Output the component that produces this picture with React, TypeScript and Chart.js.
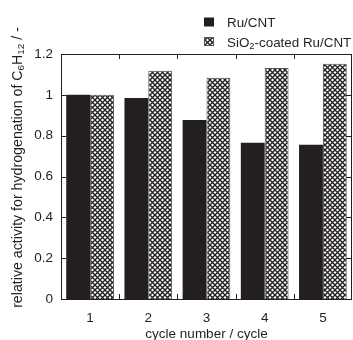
import React, { useEffect, useRef } from "react";
import { Chart, registerables } from "chart.js";

Chart.register(...registerables);

const categories = ["1", "2", "3", "4", "5"];
const ruCnt = [1.0, 0.985, 0.877, 0.765, 0.755];
const sio2Coated = [1.0, 1.118, 1.084, 1.131, 1.152];
const legendLabels = [
  [{ t: "Ru/CNT" }],
  [{ t: "SiO" }, { t: "2", sub: true }, { t: "-coated Ru/CNT" }],
];
const yTitle = [
  { t: "relative activity for hydrogenation of C" },
  { t: "6", sub: true },
  { t: "H" },
  { t: "12", sub: true },
  { t: " / -" },
];
const xTitle = "cycle number / cycle";

const INK = "#231f20";
const FONT = "'Liberation Sans', Arial, sans-serif";

function makePattern(): CanvasPattern | string {
  const p = 5;
  const c = document.createElement("canvas");
  c.width = p;
  c.height = p;
  const g = c.getContext("2d");
  if (!g) return "#888";
  g.fillStyle = "#ffffff";
  g.fillRect(0, 0, p, p);
  g.strokeStyle = INK;
  g.lineWidth = 1.35;
  g.beginPath();
  g.moveTo(-1, -1);
  g.lineTo(p + 1, p + 1);
  g.moveTo(p + 1, -1);
  g.lineTo(-1, p + 1);
  g.stroke();
  const pat = g.createPattern(c, "repeat");
  return pat || "#888";
}

type Seg = { t: string; sub?: boolean };

function drawRich(ctx: CanvasRenderingContext2D, segs: Seg[], x: number, y: number, size: number, align: "left" | "center") {
  const subSize = size * 0.7;
  let total = 0;
  const widths = segs.map((s) => {
    ctx.font = `${s.sub ? subSize : size}px ${FONT}`;
    const w = ctx.measureText(s.t).width;
    total += w;
    return w;
  });
  let cx = align === "center" ? x - total / 2 : x;
  ctx.textAlign = "left";
  ctx.textBaseline = "alphabetic";
  segs.forEach((s, i) => {
    ctx.font = `${s.sub ? subSize : size}px ${FONT}`;
    ctx.fillText(s.t, cx, s.sub ? y + size * 0.2 : y);
    cx += widths[i];
  });
}

const decorPlugin = {
  id: "decor",
  afterDraw(chart: any) {
    const ctx: CanvasRenderingContext2D = chart.ctx;
    const { left, right, top, bottom } = chart.chartArea;
    const yScale = chart.scales.y;
    const xScale = chart.scales.x;
    ctx.save();
    ctx.strokeStyle = INK;
    ctx.lineWidth = 1;
    ctx.strokeRect(Math.round(left) + 0.5, Math.round(top) + 0.5, Math.round(right - left) - 1, Math.round(bottom - top));
    const tl = 5;
    ctx.beginPath();
    yScale.ticks.forEach((t: any) => {
      const py = Math.round(yScale.getPixelForValue(t.value)) + 0.5;
      ctx.moveTo(left, py);
      ctx.lineTo(left + tl, py);
      ctx.moveTo(right - 1, py);
      ctx.lineTo(right - 1 - tl, py);
    });
    const n = categories.length;
    for (let i = 1; i < n; i++) {
      const px = Math.round((xScale.getPixelForValue(i - 1) + xScale.getPixelForValue(i)) / 2) + 0.5;
      ctx.moveTo(px, top);
      ctx.lineTo(px, top + tl);
      ctx.moveTo(px, bottom);
      ctx.lineTo(px, bottom - tl);
    }
    ctx.stroke();

    ctx.fillStyle = INK;
    ctx.font = `13.5px ${FONT}`;
    ctx.textAlign = "center";
    ctx.textBaseline = "alphabetic";
    ctx.fillText(xTitle, (left + right) / 2, 338);

    ctx.save();
    ctx.translate(21.5, 167.5);
    ctx.rotate(-Math.PI / 2);
    drawRich(ctx, yTitle, 0, 0, 14.2, "center");
    ctx.restore();

    const ds = chart.data.datasets;
    const rows = [
      { boxY: 17.5, baseY: 27 },
      { boxY: 37, baseY: 46.5 },
    ];
    ds.forEach((d: any, i: number) => {
      const r = rows[i];
      ctx.fillStyle = d.backgroundColor;
      ctx.fillRect(204, r.boxY, 10, 9);
      if (d.borderWidth) {
        ctx.strokeStyle = "#555";
        ctx.strokeRect(204.5, r.boxY + 0.5, 9, 8);
      }
      ctx.fillStyle = INK;
      drawRich(ctx, legendLabels[i], 227, r.baseY, 13.4, "left");
    });
    ctx.restore();
  },
};

export default function App() {
  const ref = useRef<HTMLCanvasElement | null>(null);
  useEffect(() => {
    if (!ref.current) return;
    const pattern = makePattern();
    const chart = new Chart(ref.current, {
      type: "bar",
      data: {
        labels: categories,
        datasets: [
          {
            label: "Ru/CNT",
            data: ruCnt,
            backgroundColor: INK,
            borderWidth: 0,
            categoryPercentage: 0.82,
            barPercentage: 1,
          },
          {
            label: "SiO2-coated Ru/CNT",
            data: sio2Coated,
            backgroundColor: pattern as any,
            borderColor: "#555",
            borderWidth: 1,
            categoryPercentage: 0.82,
            barPercentage: 1,
          },
        ],
      },
      options: {
        responsive: false,
        animation: false,
        layout: { padding: { top: 54, left: 0, right: 1, bottom: 0 } },
        plugins: {
          legend: { display: false },
          tooltip: { enabled: false },
          title: { display: false },
        },
        scales: {
          x: {
            grid: { display: false, drawTicks: false },
            border: { display: false },
            ticks: { color: INK, font: { size: 13.5, family: FONT }, padding: 11, maxRotation: 0 },
            afterFit: (s: any) => {
              s.height = 41;
            },
          },
          y: {
            min: 0,
            max: 1.2,
            grid: { display: false, drawTicks: false },
            border: { display: false },
            ticks: {
              stepSize: 0.2,
              color: INK,
              font: { size: 13.5, family: FONT },
              padding: 8,
              callback: (v: any) => String(Number(Number(v).toFixed(1))),
            },
            afterFit: (s: any) => {
              s.width = 61;
            },
          },
        },
      },
      plugins: [decorPlugin],
    });
    return () => chart.destroy();
  }, []);
  return (
    <div style={{ position: "fixed", left: 0, top: 0, width: 353, height: 340, background: "#fff" }}>
      <canvas ref={ref} width={353} height={340} style={{ display: "block" }} />
    </div>
  );
}
